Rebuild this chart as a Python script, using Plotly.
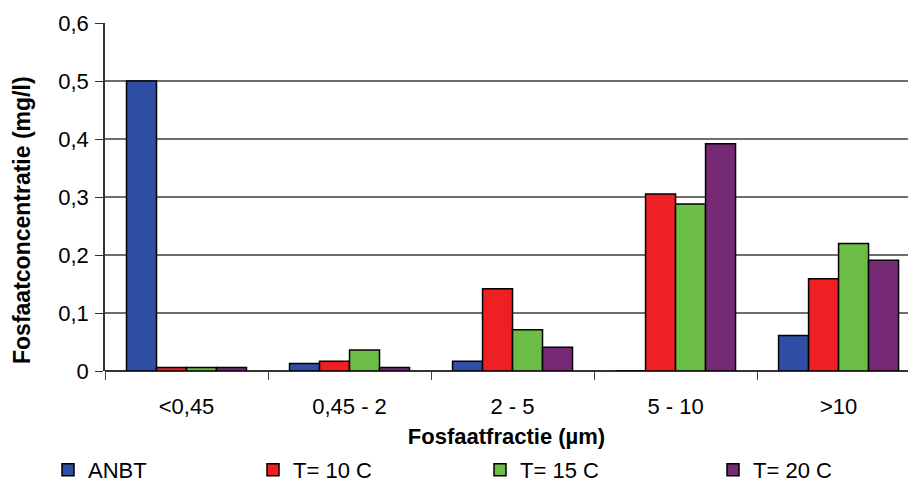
import plotly.graph_objects as go

categories = ["<0,45", "0,45 - 2", "2 - 5", "5 - 10", ">10"]
anbt = [0.5, 0.013, 0.017, 0.0, 0.061]
t10 = [0.006, 0.017, 0.142, 0.305, 0.159]
t15 = [0.006, 0.036, 0.071, 0.288, 0.220]
t20 = [0.006, 0.006, 0.041, 0.392, 0.191]
series_names = ["ANBT", "T= 10 C", "T= 15 C", "T= 20 C"]
colors = ["#2E4FA3", "#EE2024", "#6BBD45", "#762A76"]
ytickvals = [0, 0.1, 0.2, 0.3, 0.4, 0.5, 0.6]
yticktext = ["0", "0,1", "0,2", "0,3", "0,4", "0,5", "0,6"]

legend_ids = ["legend", "legend2", "legend3", "legend4"]
legend_x = [48, 253, 480, 713]  # pixel positions of legend boxes

W, H = 908, 484
fig = go.Figure()
for name, vals, col, lg in zip(series_names, [anbt, t10, t15, t20], colors, legend_ids):
    fig.add_trace(go.Bar(
        x=categories, y=vals, name=name, legend=lg,
        marker=dict(color=col, line=dict(color="black", width=1.5)),
    ))

font = "Liberation Sans, Arial, sans-serif"
legend_common = dict(xref="container", yref="container", xanchor="left", yanchor="middle",
                     y=1 - 470 / H, font=dict(size=22), bgcolor="rgba(0,0,0,0)",
                     orientation="h")
layout_legends = {}
for lg, px in zip(legend_ids, legend_x):
    layout_legends[lg] = dict(legend_common, x=px / W)

fig.update_layout(
    width=W, height=H,
    margin=dict(l=105, r=0, t=23, b=113),
    paper_bgcolor="white", plot_bgcolor="white",
    barmode="group", bargap=0.264, bargroupgap=0,
    font=dict(family=font, size=22, color="black"),
    showlegend=True,
    xaxis=dict(
        type="category", range=[-0.5, 4.426],
        showline=False, showgrid=False,
        ticks="outside", tickson="boundaries", ticklen=8, tickcolor="#444",
        ticklabelstandoff=20,
        tickfont=dict(size=22),
        title=dict(text="<b>Fosfaatfractie (µm)</b>", font=dict(size=22), standoff=10),
    ),
    yaxis=dict(
        range=[0, 0.6], tickvals=ytickvals, ticktext=yticktext,
        showline=True, linecolor="#333", linewidth=1.5,
        showgrid=True, gridcolor="#6e6e6e", gridwidth=1.5,
        ticks="outside", ticklen=8, tickcolor="#333",
        zeroline=True, zerolinecolor="#333", zerolinewidth=1.5,
        tickfont=dict(size=22),
        ticklabelstandoff=2,
        automargin=False,
    ),
    annotations=[dict(
        text="<b>Fosfaatconcentratie (mg/l)</b>", textangle=-90,
        xref="paper", yref="paper", x=(22 - 105) / 803, y=(371 - 220) / 348,
        xanchor="center", yanchor="middle", showarrow=False,
        font=dict(size=23, family=font),
    )],
    **layout_legends,
)

fig.write_html("out.html")
